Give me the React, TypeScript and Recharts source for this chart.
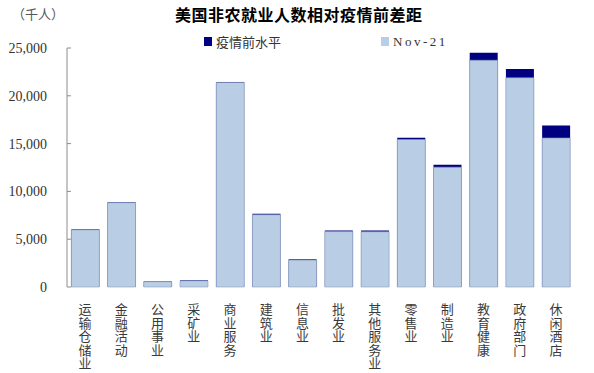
import React from 'react';
import { BarChart, Bar, XAxis, YAxis, Legend } from 'recharts';

const categories = ['运输仓储业', '金融活动', '公用事业', '采矿业', '商业服务', '建筑业', '信息业', '批发业', '其他服务业', '零售业', '制造业', '教育健康', '政府部门', '休闲酒店'];
const preCovid = [6030, 8870, 590, 710, 21450, 7660, 2900, 5900, 5900, 15600, 12800, 24500, 22800, 16900];
const nov21 = [5980, 8820, 560, 650, 21400, 7560, 2820, 5800, 5780, 15430, 12530, 23720, 21880, 15580];
const yTicks = [0, 5000, 10000, 15000, 20000, 25000];
const boundaryTicks = [0, 1, 2, 3, 4, 5, 6, 7, 8, 9, 10, 11, 12, 13, 14];

const data = categories.map((name, i) => ({ name, pre: preCovid[i], nov: nov21[i] }));

const NAVY = '#000080';
const LIGHT = '#B9CDE5';
const AXIS = '#8C8C8C';

// vertical text, one label per category
const CategoryTick = (props: any) => {
    const { x, y, payload } = props;
    return (
        <text
            x={x}
            y={y}
            writingMode="vertical-rl"
            textAnchor="start"
            fontSize={13}
            letterSpacing={0.5}
            fill="#3a3a3a"
            fontFamily="'Noto Sans CJK SC', sans-serif"
        >
            {payload.value}
        </text>
    );
};

const LegendContent = () => (
    <div style={{ display: 'flex', alignItems: 'center', fontSize: 13, color: '#333' }}>
        <span style={{ width: 8, height: 9, background: NAVY, display: 'inline-block', marginRight: 4 }} />
        <span style={{ fontFamily: "'Noto Sans CJK SC', sans-serif", marginRight: 100 }}>疫情前水平</span>
        <span style={{ width: 8, height: 9, background: LIGHT, display: 'inline-block', marginRight: 4 }} />
        <span style={{ fontFamily: "'Liberation Serif', serif", letterSpacing: 2.5 }}>Nov-21</span>
    </div>
);

const App = () => {
    return (
        <div style={{ position: 'absolute', left: 0, top: 0, width: 594, height: 373, background: '#fff' }}>
            <div style={{ position: 'absolute', left: 12, top: 4, fontSize: 13, color: '#555', fontFamily: "'Noto Sans CJK SC', sans-serif" }}>（千人）</div>
            <div style={{ position: 'absolute', left: 175, top: 2, fontSize: 16, fontWeight: 700, color: '#000', fontFamily: "'Noto Sans CJK SC', sans-serif", letterSpacing: 0.5 }}>
                美国非农就业人数相对疫情前差距
            </div>
            <BarChart width={594} height={373} data={data} margin={{ top: 48, right: 20, bottom: 0, left: 0 }} barCategoryGap="12%">
                <XAxis
                    xAxisId="grid"
                    type="number"
                    domain={[0, 14]}
                    ticks={boundaryTicks}
                    height={0}
                    tickSize={4}
                    stroke={AXIS}
                    tickFormatter={() => ''}
                    allowDataOverflow
                />
                <XAxis dataKey="name" height={86} axisLine={false} tickLine={false} interval={0} tick={<CategoryTick />} tickMargin={10} />
                <XAxis xAxisId="over" dataKey="name" hide />
                <YAxis
                    width={67}
                    domain={[0, 25000]}
                    ticks={yTicks}
                    stroke={AXIS}
                    tickSize={-4}
                    tickMargin={24}
                    tick={{ fill: '#333', fontSize: 14, fontFamily: "'Liberation Serif', serif" }}
                    tickFormatter={(v: number) => v.toLocaleString('en-US')}
                />
                <Legend verticalAlign="middle" content={<LegendContent />} wrapperStyle={{ position: 'absolute', top: 32, left: 204, width: 300 }} />
                <Bar xAxisId="over" dataKey="pre" name="疫情前水平" fill={NAVY} isAnimationActive={false} />
                <Bar dataKey="nov" name="Nov-21" fill={LIGHT} stroke="#8A9CB8" strokeWidth={0.6} isAnimationActive={false} />
            </BarChart>
        </div>
    );
};

export default App;
